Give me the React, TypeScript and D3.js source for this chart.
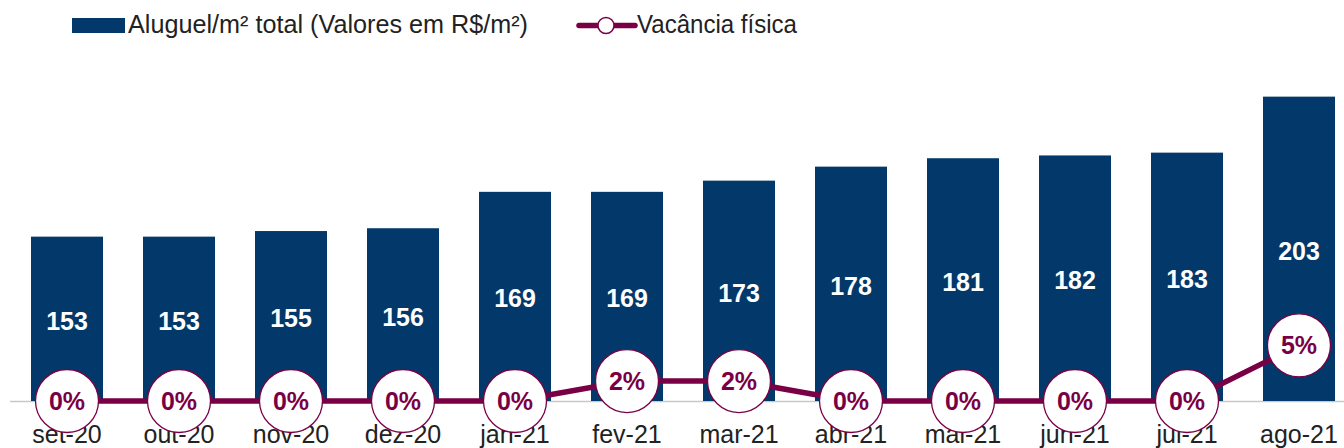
import React from "react";
import * as d3 from "d3";

const categories = ["set-20", "out-20", "nov-20", "dez-20", "jan-21", "fev-21", "mar-21", "abr-21", "mai-21", "jun-21", "jul-21", "ago-21"];
const rentValues = [153, 153, 155, 156, 169, 169, 173, 178, 181, 182, 183, 203];
const vacancyValues = [0, 0, 0, 0, 0, 1.9, 1.9, 0, 0, 0, 0, 5.3];
const legendLabels = ["Aluguel/m² total (Valores em R$/m²)", "Vacância física"];

const W = 1344;
const H = 448;
const BAR = "#02386A";
const LINE = "#7A0046";
const FONT = "'Liberation Sans', Arial, Helvetica, sans-serif";

export default function App() {
  const baseY = 401;
  const x = d3.scaleBand<string>().domain(categories).range([11, 1355]).paddingInner(0.357).paddingOuter(0.1785);
  const y = d3.scaleLinear().domain([94.3, 214.3]).range([baseY, baseY - 336]);
  const y2 = d3.scaleLinear().domain([0, 10]).range([baseY, baseY - 105]);
  const cx = (c: string) => (x(c) as number) + x.bandwidth() / 2;
  const line = d3
    .line<number>()
    .x((_, i) => cx(categories[i]))
    .y((d) => y2(d));

  return (
    <svg width={W} height={H} style={{ position: "absolute", left: 0, top: 0, display: "block" }} fontFamily={FONT}>
      <rect x={0} y={0} width={W} height={H} fill="#fff" />
      {/* legend */}
      <rect x={72} y={18} width={53} height={15} fill={BAR} />
      <text x={128} y={33} fontSize={25} fill="#222" textLength={400} lengthAdjust="spacingAndGlyphs">{legendLabels[0]}</text>
      <line x1={579} x2={635} y1={25.5} y2={25.5} stroke={LINE} strokeWidth={5.5} strokeLinecap="round" />
      <circle cx={606} cy={25.5} r={8} fill="#fff" stroke={LINE} strokeWidth={1.5} />
      <text x={637} y={33} fontSize={25} fill="#222" textLength={160} lengthAdjust="spacingAndGlyphs">{legendLabels[1]}</text>

      {/* axis line */}
      <line x1={10} x2={W} y1={baseY + 0.5} y2={baseY + 0.5} stroke="#c8c8c8" strokeWidth={1.5} />

      {/* bars */}
      {categories.map((c, i) => {
        const top = y(rentValues[i]);
        return (
          <g key={c}>
            <rect x={x(c)} y={top} width={x.bandwidth()} height={baseY - top} fill={BAR} />
            <text x={cx(c)} y={(top + baseY) / 2 + 11} textAnchor="middle" fontSize={25} fontWeight="bold" fill="#fff">
              {rentValues[i]}
            </text>
          </g>
        );
      })}

      {/* x labels */}
      {categories.map((c) => (
        <text key={c} x={cx(c)} y={443} textAnchor="middle" fontSize={25} fill="#222">
          {c}
        </text>
      ))}

      {/* vacancy line */}
      <path d={line(vacancyValues) || ""} fill="none" stroke={LINE} strokeWidth={5.5} />
      {categories.map((c, i) => (
        <g key={c}>
          <circle cx={cx(c)} cy={y2(vacancyValues[i])} r={31.5} fill="#fff" stroke={LINE} strokeWidth={1.3} />
          <text x={cx(c)} y={y2(vacancyValues[i]) + 9} textAnchor="middle" fontSize={25} fontWeight="bold" fill={LINE}>
            {Math.round(vacancyValues[i])}%
          </text>
        </g>
      ))}
    </svg>
  );
}
